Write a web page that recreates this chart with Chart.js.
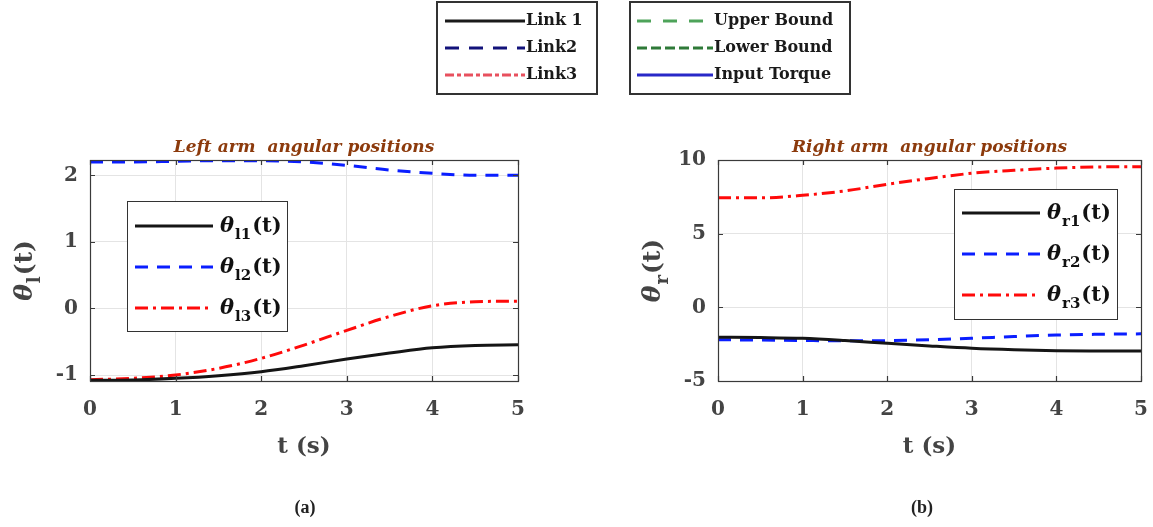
<!DOCTYPE html>
<html>
<head>
<meta charset="utf-8">
<script src="https://cdn.jsdelivr.net/npm/chart.js@4.4.0/dist/chart.umd.min.js"></script>
<style>
  html, body { margin: 0; padding: 0; background: #fff; }
  #wrap { position: relative; width: 1153px; height: 527px; }
  #wrap canvas { position: absolute; left: 0; top: 0; }
</style>
</head>
<body>
<div id="wrap">
  <canvas id="leftArm" width="1153" height="527" style="width:1153px;height:527px"></canvas>
  <canvas id="rightArm" width="1153" height="527" style="width:1153px;height:527px"></canvas>
</div>
<script>
// Sample times (s)
const timeS = [0, 0.5, 1, 1.5, 2, 2.5, 3, 3.5, 4, 4.5, 5];

// Left arm joint angles
const thetaL1 = [-1.08, -1.075, -1.05, -1.01, -0.95, -0.86, -0.76, -0.67, -0.59, -0.555, -0.545];
const thetaL2 = [2.20, 2.20, 2.21, 2.22, 2.22, 2.20, 2.15, 2.08, 2.03, 2.00, 2.00];
const thetaL3 = [-1.07, -1.05, -1.00, -0.90, -0.75, -0.55, -0.33, -0.12, 0.04, 0.10, 0.11];

// Right arm joint angles
const thetaR1 = [-2.03, -2.05, -2.10, -2.25, -2.44, -2.62, -2.78, -2.88, -2.94, -2.96, -2.97];
const thetaR2 = [-2.20, -2.22, -2.25, -2.27, -2.26, -2.20, -2.10, -1.98, -1.88, -1.83, -1.80];
const thetaR3 = [7.43, 7.43, 7.60, 7.90, 8.35, 8.75, 9.10, 9.30, 9.45, 9.53, 9.55];

// Tick labels
const timeTicks = [0, 1, 2, 3, 4, 5];
const leftTicks = [-1, 0, 1, 2];
const rightTicks = [-5, 0, 5, 10];

// Figure legend entries
const linkNames = ['Link 1', 'Link2', 'Link3'];
const boundNames = ['Upper Bound', 'Lower Bound', 'Input Torque'];

const SERIF = '"DejaVu Serif", serif';
const INK = '#444444';

function pts(ys) { return timeS.map((t, i) => ({ x: t, y: ys[i] })); }

const solidStyle = { borderColor: '#151515', borderWidth: 3, borderDash: [] };
const dashStyle  = { borderColor: '#0a1eff', borderWidth: 3, borderDash: [13, 9] };
const dotDash    = { borderColor: '#ff0a0a', borderWidth: 3, borderDash: [13, 5, 3, 5] };

function series(label, ys, style) {
  return Object.assign({
    label, data: pts(ys), pointRadius: 0, fill: false,
    cubicInterpolationMode: 'monotone'
  }, style);
}

// Draws θ with a subscript followed by "(t)"; returns total width
function thetaLabel(ctx, x, y, sub, size, measureOnly) {
  const subSize = Math.round(size * 0.72);
  ctx.font = 'italic bold ' + size + 'px ' + SERIF;
  const w1 = ctx.measureText('θ').width;
  ctx.font = 'bold ' + subSize + 'px ' + SERIF;
  const w2 = ctx.measureText(sub).width;
  ctx.font = 'bold ' + size + 'px ' + SERIF;
  const w3 = ctx.measureText('(t)').width;
  if (!measureOnly) {
    ctx.textBaseline = 'alphabetic';
    ctx.textAlign = 'left';
    ctx.font = 'italic bold ' + size + 'px ' + SERIF;
    ctx.fillText('θ', x, y);
    ctx.font = 'bold ' + subSize + 'px ' + SERIF;
    ctx.fillText(sub, x + w1 + 1, y + size * 0.32);
    ctx.font = 'bold ' + size + 'px ' + SERIF;
    ctx.fillText('(t)', x + w1 + w2 + 2, y);
  }
  return w1 + w2 + w3 + 2;
}

const armDecor = {
  id: 'armDecor',
  afterDraw(chart, args, opts) {
    const { ctx, chartArea: a, scales } = chart;
    ctx.save();

    // Axes box with inward tick marks
    ctx.strokeStyle = '#3a3a3a';
    ctx.lineWidth = 1.2;
    ctx.strokeRect(a.left + 0.5, a.top + 0.5, a.right - a.left, a.bottom - a.top);
    ctx.beginPath();
    scales.x.ticks.forEach(t => {
      const px = Math.round(scales.x.getPixelForValue(t.value)) + 0.5;
      ctx.moveTo(px, a.bottom); ctx.lineTo(px, a.bottom - 5);
      ctx.moveTo(px, a.top); ctx.lineTo(px, a.top + 5);
    });
    scales.y.ticks.forEach(t => {
      const py = Math.round(scales.y.getPixelForValue(t.value)) + 0.5;
      ctx.moveTo(a.left, py); ctx.lineTo(a.left + 5, py);
      ctx.moveTo(a.right, py); ctx.lineTo(a.right - 5, py);
    });
    ctx.stroke();

    const cx = (a.left + a.right) / 2;
    const cy = (a.top + a.bottom) / 2;

    // Title
    ctx.fillStyle = '#8c3a0c';
    ctx.font = 'italic bold 17px ' + SERIF;
    ctx.textAlign = 'center';
    ctx.textBaseline = 'alphabetic';
    ctx.fillText(opts.title, cx, a.top - 8);

    // x-axis title
    ctx.fillStyle = INK;
    ctx.font = 'bold 23px ' + SERIF;
    ctx.fillText('t (s)', cx, a.bottom + 72);

    // y-axis title
    ctx.save();
    ctx.translate(a.left - 58, cy);
    ctx.rotate(-Math.PI / 2);
    const w = thetaLabel(ctx, 0, 0, opts.ySub, 25, true);
    thetaLabel(ctx, -w / 2, 0, opts.ySub, 25, false);
    ctx.restore();

    // In-plot legend
    const L = opts.legend;
    ctx.fillStyle = '#ffffff';
    ctx.fillRect(L.x, L.y, L.w, L.h);
    ctx.strokeStyle = '#333333';
    ctx.lineWidth = 1;
    ctx.strokeRect(L.x + 0.5, L.y + 0.5, L.w, L.h);
    chart.data.datasets.forEach((ds, i) => {
      const ry = L.y + L.row0 + i * L.step;
      ctx.strokeStyle = ds.borderColor;
      ctx.lineWidth = ds.borderWidth;
      ctx.setLineDash(ds.borderDash);
      ctx.beginPath();
      ctx.moveTo(L.x + 8, ry);
      ctx.lineTo(L.x + 86, ry);
      ctx.stroke();
      ctx.setLineDash([]);
      ctx.fillStyle = '#111111';
      thetaLabel(ctx, L.x + 93, ry + 6, ds.label, 21, false);
    });
    ctx.restore();
  }
};

// Figure-level legend boxes and panel captions
const pageDecor = {
  id: 'pageDecor',
  afterDraw(chart) {
    const ctx = chart.ctx;
    ctx.save();
    const boxes = [
      { x: 437, y: 2, w: 160, h: 92, lineX: 445, lineW: 80, names: linkNames,
        styles: [
          { c: '#1a1a1a', d: [] },
          { c: '#12127a', d: [14, 10] },
          { c: '#e8505e', d: [9, 3, 4, 3] }
        ] },
      { x: 630, y: 2, w: 220, h: 92, lineX: 637, lineW: 76, names: boundNames,
        styles: [
          { c: '#4ea35a', d: [14, 12] },
          { c: '#2f7a38', d: [10, 4] },
          { c: '#2828c8', d: [] }
        ] }
    ];
    boxes.forEach(b => {
      ctx.fillStyle = '#fff';
      ctx.fillRect(b.x, b.y, b.w, b.h);
      ctx.strokeStyle = '#333';
      ctx.lineWidth = 2;
      ctx.strokeRect(b.x, b.y, b.w, b.h);
      b.names.forEach((n, i) => {
        const ry = b.y + 19 + i * 27;
        ctx.strokeStyle = b.styles[i].c;
        ctx.lineWidth = 3;
        ctx.setLineDash(b.styles[i].d);
        ctx.beginPath();
        ctx.moveTo(b.lineX, ry);
        ctx.lineTo(b.lineX + b.lineW, ry);
        ctx.stroke();
        ctx.setLineDash([]);
        ctx.fillStyle = '#1a1a1a';
        ctx.font = 'bold 16px ' + SERIF;
        ctx.textAlign = 'left';
        ctx.textBaseline = 'middle';
        ctx.fillText(n, b.lineX + b.lineW + 1, ry);
      });
    });
    ctx.fillStyle = '#222';
    ctx.font = 'bold 18px "Liberation Serif", serif';
    ctx.textAlign = 'center';
    ctx.textBaseline = 'middle';
    ctx.fillText('(a)', 305, 508);
    ctx.fillText('(b)', 922, 508);
    ctx.restore();
  }
};

function makeOptions(yMin, yMax, yTicks, pad, decor) {
  const tickFont = { family: SERIF, size: 20, weight: 'bold' };
  return {
    responsive: false,
    animation: false,
    events: [],
    layout: { padding: pad },
    scales: {
      x: {
        type: 'linear', min: 0, max: 5,
        afterBuildTicks: s => { s.ticks = timeTicks.map(v => ({ value: v })); },
        afterFit: s => { s.height = 40; s.paddingLeft = 0; s.paddingRight = 0; },
        grid: { color: '#e4e4e4', drawTicks: false },
        border: { display: false },
        ticks: { color: INK, font: tickFont, padding: 17, maxRotation: 0 }
      },
      y: {
        type: 'linear', min: yMin, max: yMax,
        afterBuildTicks: s => { s.ticks = yTicks.map(v => ({ value: v })); },
        afterFit: s => { s.width = 90; s.paddingTop = 0; s.paddingBottom = 0; },
        grid: { color: '#e4e4e4', drawTicks: false },
        border: { display: false },
        ticks: { color: INK, font: tickFont, padding: 12 }
      }
    },
    plugins: {
      legend: { display: false },
      tooltip: { enabled: false },
      armDecor: decor
    }
  };
}

new Chart(document.getElementById('leftArm'), {
  type: 'line',
  data: {
    datasets: [
      series('l1', thetaL1, solidStyle),
      series('l2', thetaL2, dashStyle),
      series('l3', thetaL3, dotDash)
    ]
  },
  options: makeOptions(-1.09, 2.23, leftTicks,
    { left: 0, right: 635, top: 160, bottom: 106 },
    { title: 'Left arm  angular positions', ySub: 'l',
      legend: { x: 127, y: 201, w: 160, h: 130, row0: 25, step: 41 } }),
  plugins: [armDecor, pageDecor]
});

new Chart(document.getElementById('rightArm'), {
  type: 'line',
  data: {
    datasets: [
      series('r1', thetaR1, solidStyle),
      series('r2', thetaR2, dashStyle),
      series('r3', thetaR3, dotDash)
    ]
  },
  options: makeOptions(-5, 10, rightTicks,
    { left: 628, right: 12, top: 160, bottom: 106 },
    { title: 'Right arm  angular positions', ySub: 'r',
      legend: { x: 954, y: 189, w: 163, h: 130, row0: 24, step: 41 } }),
  plugins: [armDecor]
});
</script>
</body>
</html>
